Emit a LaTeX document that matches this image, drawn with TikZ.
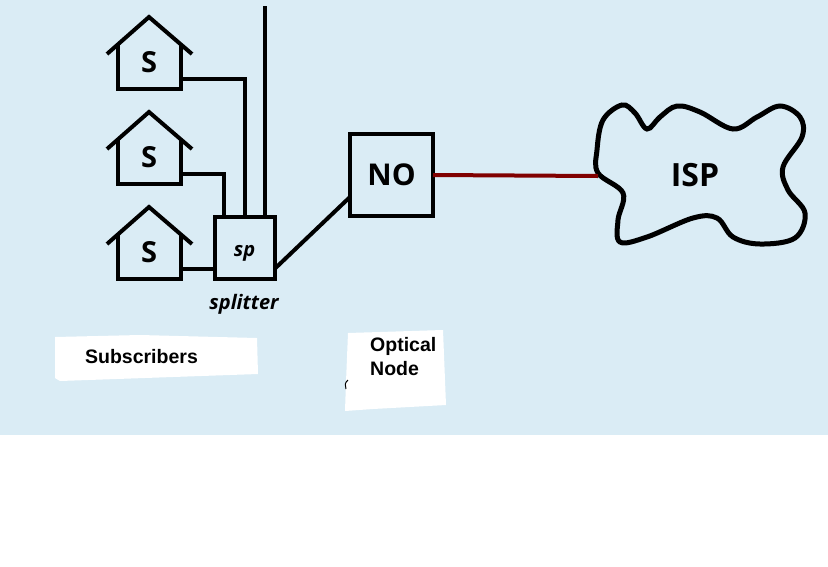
\documentclass[tikz,border=0pt]{standalone}
\usepackage{fontspec}
\setmainfont{Open Sans}
\newfontfamily\arialfont{Liberation Sans}
\usetikzlibrary{calc}
\definecolor{bgblue}{RGB}{218,236,245}
\definecolor{linkred}{RGB}{128,0,0}
\tikzset{
  wire/.style={line width=4pt},
  boxnode/.style={draw, line width=4pt, outer sep=0pt, inner sep=0pt},
  housetext/.style={font=\bfseries\fontsize{29}{30}\selectfont},
  labeltext/.style={font=\arialfont\bfseries\fontsize{19.5}{24}\selectfont, inner sep=0pt}
}
\begin{document}
\begin{tikzpicture}[x=1pt,y=-1pt]
\useasboundingbox (0,0) rectangle (828,566);
\fill[bgblue] (0,0) rectangle (828,435);
% houses
\foreach \i/\dy in {1/0,2/95,3/190}{
  \draw[wire] (107,54+\dy) -- (149,17+\dy) -- (192,54+\dy);
  \draw[wire] (118,44+\dy) -- (118,89+\dy) -- (181,89+\dy) -- (181,44+\dy);
  \node[housetext] (s\i) at (149,62+\dy) {S};
  \coordinate (w\i) at (181,79+\dy);
}
\node[boxnode, minimum width=60pt, minimum height=62pt,
  font=\bfseries\itshape\fontsize{20}{22}\selectfont] (sp) at (244.5,248)
  {\raisebox{-8pt}[0pt][0pt]{sp}};
\node[font=\bfseries\itshape\fontsize{20}{22}\selectfont] (spl) at (244,304) {splitter};
\node[boxnode, minimum width=83pt, minimum height=82pt,
  font=\bfseries\fontsize{30}{32}\selectfont] (no) at (391.5,175) {NO};
\coordinate (up) at (265,6);
\draw[wire] (w1) -| (sp.north);
\draw[wire] (w2) -| ([xshift=-21pt]sp.north);
\draw[wire] (w3) -- (w3 -| sp.west);
\draw[wire] (up) -- (up |- sp.north);
\draw[wire] ([yshift=10pt]sp.south east) -- ([yshift=19pt]no.south west);
% ISP cloud
\draw[line width=5pt] plot[smooth cycle, tension=0.6] coordinates {
  (598,173) (597,150) (603,120) (622,105) (635,113) (647,129) (660,117)
  (677,106) (700,112) (733,129) (757,117) (780,106) (800,117) (802,137)
  (783,167) (788,190) (805,213) (795,238) (760,244) (733,237) (717,218)
  (693,218) (647,237) (620,242) (618,220) (623,193)};
\coordinate (ispw) at (598,176);
\node[font=\bfseries\fontsize{32}{34}\selectfont] (isp) at (695,175) {ISP};
\draw[line width=4pt, linkred] (no.east) -- (ispw);
% labels
\fill[white] (55,337) -- (140,335) -- (257,338) -- (258,374) -- (173,377)
  -- (60,381) -- (55,378) -- cycle;
\node[labeltext] (subs) at (141.5,357) {Subscribers};
\fill[white] (348,333) -- (443,330) -- (446,405) -- (373,409) -- (345,411)
  -- (346,382) -- cycle;
\node[labeltext, align=left, anchor=west] (optn) at (370,357) {Optical\\Node};
\draw[line width=1pt] (348,380) .. controls (345,383) .. (346,389);
\end{tikzpicture}
\end{document}
